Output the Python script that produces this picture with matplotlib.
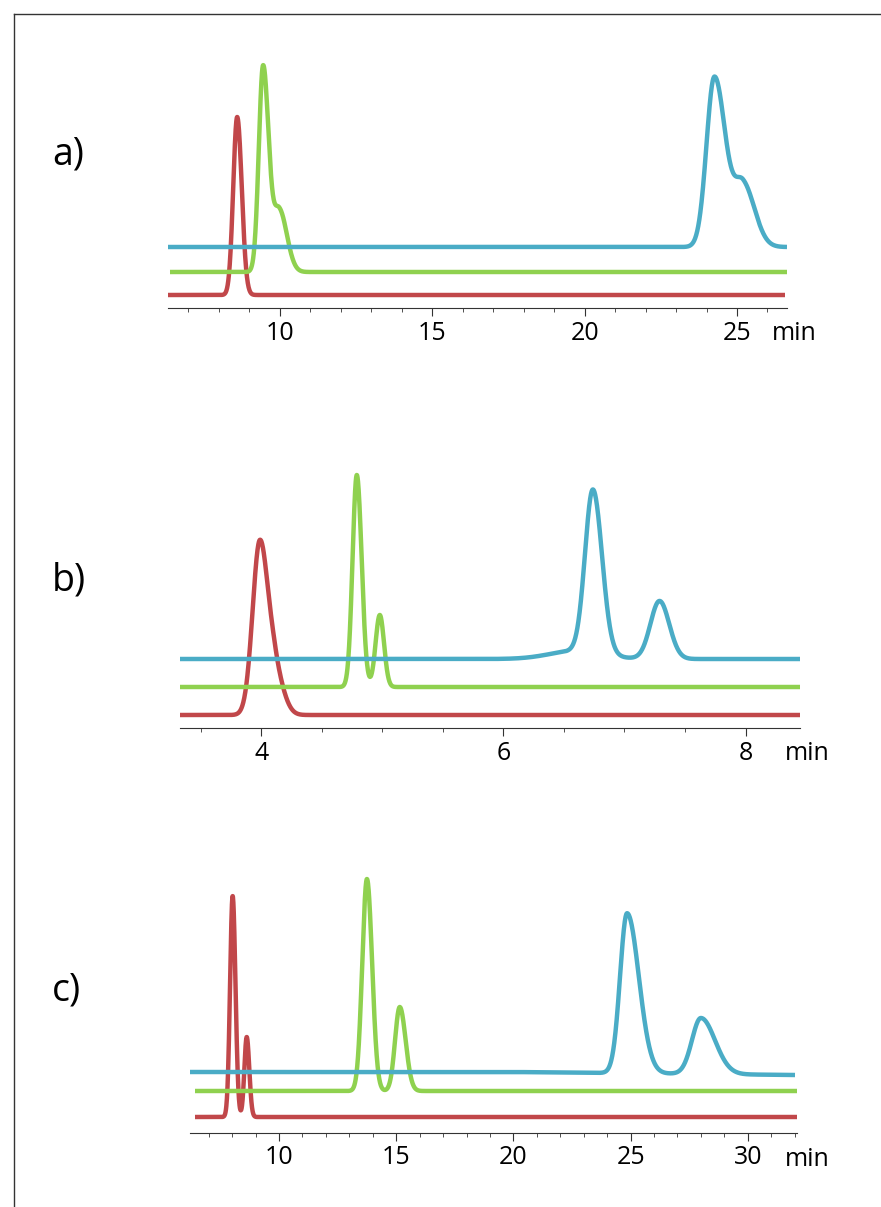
import numpy as np
import matplotlib
matplotlib.use("Agg")
import matplotlib.pyplot as plt
from matplotlib.lines import Line2D

plt.rcParams['font.family'] = ['Open Sans', 'DejaVu Sans']

W, H = 881, 1207
RED, GREEN, BLUE = '#c1474a', '#8fd14f', '#4aacc6'

# panel data: peaks as (position min, height px, sigma_left, sigma_right)
a_x = (6.33, 26.64)
a_ticks = [10, 15, 20, 25]
a_base = {'red': 13, 'green': 36, 'blue': 61}
a_red = [(8.6, 178, 0.13, 0.15)]
a_green = [(9.45, 205, 0.14, 0.18), (9.98, 62, 0.2, 0.25)]
a_blue = [(24.26, 170, 0.26, 0.36), (25.2, 62, 0.3, 0.38)]

b_x = (3.33, 8.45)
b_ticks = [4, 6, 8]
b_base = {'red': 13, 'green': 41, 'blue': 69}
b_red = [(3.99, 174, 0.06, 0.07), (4.12, 35, 0.05, 0.07)]
b_green = [(4.79, 212, 0.035, 0.04), (4.98, 72, 0.035, 0.035)]
b_blue = [(6.74, 163, 0.065, 0.075), (7.29, 58, 0.075, 0.08), (6.6, 8, 0.22, 0.22)]

c_x = (6.2, 32.1)
c_ticks = [10, 15, 20, 25, 30]
c_base = {'red': 16, 'green': 42, 'blue': 61}
c_red = [(8.02, 221, 0.11, 0.12), (8.62, 80, 0.1, 0.11)]
c_green = [(13.75, 212, 0.2, 0.22), (15.15, 84, 0.2, 0.25)]
c_blue = [(24.85, 160, 0.3, 0.5), (28.0, 56, 0.38, 0.6)]

def trace(x, peaks):
    y = np.zeros_like(x)
    for p, h, sl, sr in peaks:
        s = np.where(x < p, sl, sr)
        y += h * np.exp(-0.5 * ((x - p) / s) ** 2)
    return y

fig = plt.figure(figsize=(W / 100, H / 100), dpi=100)
fig.add_artist(Line2D([14 / W, 14 / W], [0, 1 - 14 / H], color='#333', lw=1, transform=fig.transFigure))
fig.add_artist(Line2D([14 / W, 1], [1 - 14 / H, 1 - 14 / H], color='#333', lw=1, transform=fig.transFigure))

panels = [
    ('a)', 168, 787, 308, 50, a_x, a_ticks, 1, a_base, a_red, a_green, a_blue, 155, (168, 170, 168), (785, 787, 787), 772),
    ('b)', 180, 800, 728, 460, b_x, b_ticks, 0.5, b_base, b_red, b_green, b_blue, 580, (180, 180, 180), (800, 800, 800), 785),
    ('c)', 190, 797, 1133, 860, c_x, c_ticks, 1, c_base, c_red, c_green, c_blue, 990, (195, 195, 188), (797, 797, 795), 785),
]

for lab, x0, x1, yax, ytop, xr, ticks, minor, base, pr, pg, pb, ylab, starts, ends, xmin_lab in panels:
    ax = fig.add_axes([x0 / W, 1 - yax / H, (x1 - x0) / W, (yax - ytop) / H])
    ax.set_xlim(*xr)
    ax.set_ylim(0, yax - ytop)
    ppm = (x1 - x0) / (xr[1] - xr[0])
    for col, pk, key, s, e in [(RED, pr, 'red', starts[0], ends[0]),
                               (GREEN, pg, 'green', starts[1], ends[1]),
                               (BLUE, pb, 'blue', starts[2], ends[2])]:
        xs = xr[0] + (s - x0) / ppm
        xe = xr[0] + (e - x0) / ppm
        x = np.linspace(xs, xe, 3000)
        y = base[key] + trace(x, pk)
        if lab == 'c)' and key == 'blue':
            y = y - 3 * np.clip((x - 20) / (xe - 20), 0, 1)
        ax.plot(x, y, color=col, lw=3.2, solid_capstyle='butt')
    for sp in ['top', 'right', 'left']:
        ax.spines[sp].set_visible(False)
    ax.spines['bottom'].set_color('#333')
    ax.set_yticks([])
    ax.set_xticks(ticks)
    ax.set_xticks(np.arange(np.ceil(xr[0] / minor) * minor, xr[1], minor), minor=True)
    ax.tick_params(axis='x', which='major', length=6, labelsize=18, color='#333', pad=3)
    ax.tick_params(axis='x', which='minor', length=3, color='#333')
    fig.text(xmin_lab / W, 1 - (yax + 26) / H, 'min', fontsize=18, ha='left', va='center')
    fig.text(52 / W, 1 - ylab / H, lab, fontsize=27, va='center', ha='left')

fig.savefig('out.png', dpi=100)
